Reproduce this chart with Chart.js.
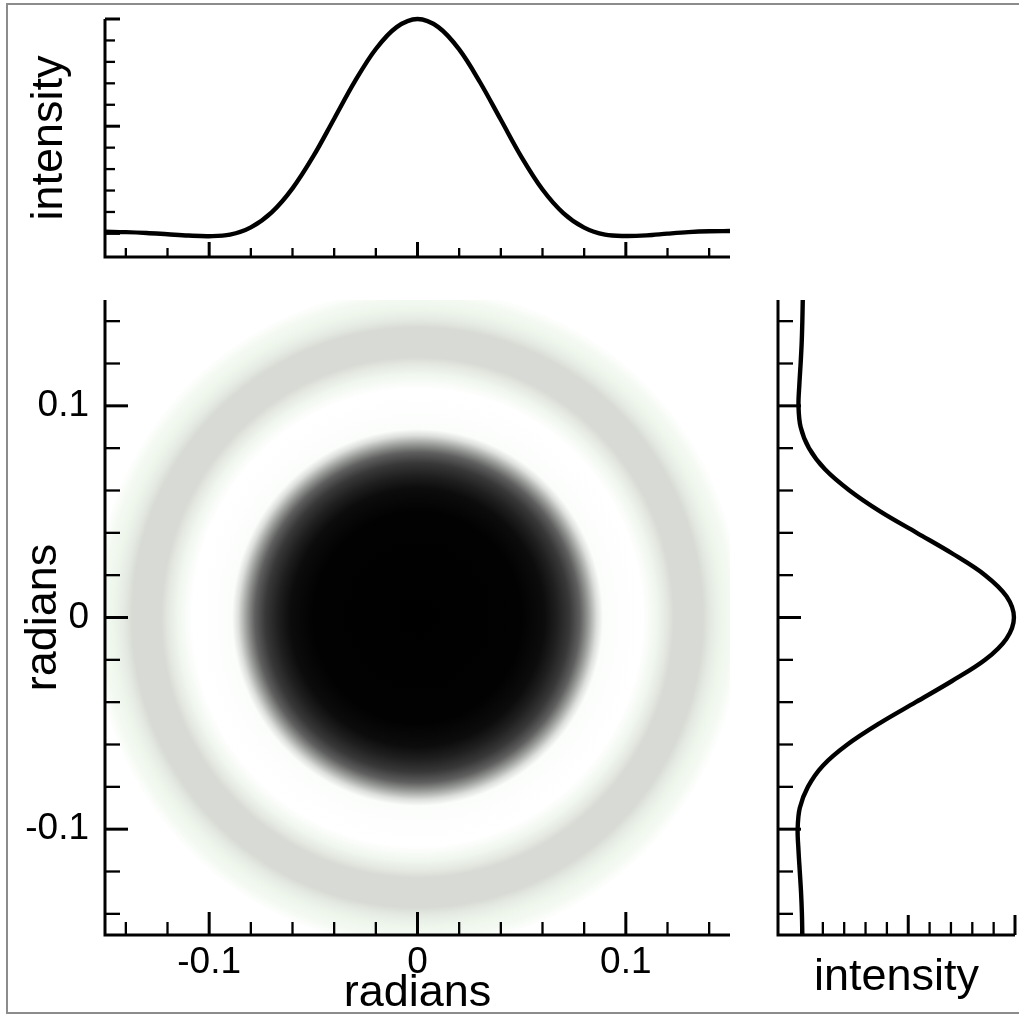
<!DOCTYPE html>
<html>
<head>
<meta charset="utf-8">
<title>Airy pattern</title>
<script src="https://cdn.jsdelivr.net/npm/chart.js@4.4.0/dist/chart.umd.min.js"></script>
<style>
  html, body { margin: 0; padding: 0; background: #fff; }
  body { width: 1019px; height: 1016px; position: relative; overflow: hidden; }
  .panel { position: absolute; }
  #frame { position: absolute; left: 6px; top: 3px; width: 1030px; height: 1011px;
           border: 2px solid #8c8c8c; border-right: none; box-sizing: border-box; }
</style>
</head>
<body>
<div id="frame"></div>
<div class="panel" style="left:0;top:0;"><canvas id="topChart" width="740" height="270"></canvas></div>
<div class="panel" style="left:0;top:280px;"><canvas id="mainChart" width="740" height="736"></canvas></div>
<div class="panel" style="left:760px;top:280px;"><canvas id="sideChart" width="259" height="736"></canvas></div>
<script>
// tick positions (radians and intensity)
const radTicks = [-0.14, -0.12, -0.1, -0.08, -0.06, -0.04, -0.02, 0, 0.02, 0.04, 0.06, 0.08, 0.1, 0.12, 0.14];
const radMajor = [-0.1, 0, 0.1];
const radLabels = ['-0.1', '0', '0.1'];
const intTicks = [0, 0.1, 0.2, 0.3, 0.4, 0.5, 0.6, 0.7, 0.8, 0.9, 1];
const intMajor = [0, 0.5, 1];

// horizontal cut (top panel)
const topAngle = [-0.15, -0.14, -0.13, -0.12, -0.11, -0.1, -0.09, -0.08, -0.07, -0.06, -0.05, -0.04, -0.03, -0.02, -0.01, 0,
                  0.01, 0.02, 0.03, 0.04, 0.05, 0.06, 0.07, 0.08, 0.09, 0.1, 0.11, 0.12, 0.13, 0.14, 0.15];
const topIntensity = [0.008, 0.006, 0.002, -0.004, -0.01, -0.013, -0.006, 0.028, 0.098, 0.21, 0.36, 0.535, 0.71, 0.86, 0.962, 1.0,
                      0.962, 0.858, 0.705, 0.53, 0.355, 0.205, 0.095, 0.027, -0.006, -0.012, -0.009, -0.001, 0.006, 0.01, 0.011];

// vertical cut (right panel)
const sideAngle = [0.15, 0.14, 0.13, 0.12, 0.11, 0.1, 0.09, 0.08, 0.07, 0.06, 0.05, 0.04, 0.03, 0.02, 0.01, 0,
                   -0.01, -0.02, -0.03, -0.04, -0.05, -0.06, -0.07, -0.08, -0.09, -0.1, -0.11, -0.12, -0.13, -0.14, -0.15];
const sideIntensity = [0.006, 0.004, 0.001, -0.004, -0.01, -0.014, -0.004, 0.035, 0.11, 0.225, 0.37, 0.54, 0.71, 0.86, 0.96, 0.995,
                       0.96, 0.86, 0.705, 0.535, 0.365, 0.215, 0.1, 0.03, -0.008, -0.018, -0.014, -0.008, -0.002, 0.002, 0.004];

// radial grey profile of the 2D image
const imgRadius = [0, 0.05, 0.061, 0.067, 0.073, 0.078, 0.082, 0.086, 0.089, 0.108, 0.115, 0.12, 0.123, 0.137, 0.141, 0.146, 0.151, 0.156];
const imgShade = ['#000000', '#020202', '#0c0c0c', '#1f1f1f', '#383838', '#5e5f5e', '#9a9c99', '#dcdedb', '#fbfdfb', '#ffffff',
                  '#f0f7ee', '#e3e7e0', '#d8dbd5', '#d8dbd5', '#e5ebe3', '#eef6ec', '#f4faf2', '#ffffff'];

Chart.defaults.font.family = '"Liberation Sans", Arial, sans-serif';
Chart.defaults.color = '#000';

const titleFont = { size: 45, lineHeight: 1 };
const tickFont = { size: 37, lineHeight: 1.2 };

// axis lines and inward tick marks
const inwardTicks = {
  id: 'inwardTicks',
  afterDraw(chart, args, opts) {
    const ctx = chart.ctx;
    const a = chart.chartArea;
    ctx.save();
    ctx.strokeStyle = '#000';
    ctx.lineCap = 'butt';
    ctx.lineWidth = 3;
    ctx.beginPath();
    ctx.moveTo(a.left, a.top);
    ctx.lineTo(a.left, a.bottom);
    ctx.lineTo(a.right, a.bottom);
    ctx.stroke();
    ['x', 'y'].forEach(function (id) {
      const scale = chart.scales[id];
      const o = opts[id];
      o.values.forEach(function (v) {
        const isMajor = o.major.includes(v);
        const len = isMajor ? o.majorLen : o.minorLen;
        const p = scale.getPixelForValue(v);
        ctx.lineWidth = isMajor ? 3 : 2.3;
        ctx.beginPath();
        if (id === 'x') {
          ctx.moveTo(p, a.bottom);
          ctx.lineTo(p, a.bottom - len);
        } else {
          ctx.moveTo(a.left, p);
          ctx.lineTo(a.left + len, p);
        }
        ctx.stroke();
      });
    });
    ctx.restore();
  }
};

// concentric diffraction image drawn with the chart's own scales
const airyImage = {
  id: 'airyImage',
  beforeDatasetsDraw(chart) {
    const ctx = chart.ctx;
    const a = chart.chartArea;
    const x = chart.scales.x, y = chart.scales.y;
    const rMax = imgRadius[imgRadius.length - 1];
    const cx = x.getPixelForValue(0), cy = y.getPixelForValue(0);
    const rx = x.getPixelForValue(rMax) - cx;
    const ry = cy - y.getPixelForValue(rMax);
    ctx.save();
    ctx.beginPath();
    ctx.rect(a.left, a.top, a.right - a.left, a.bottom - a.top);
    ctx.clip();
    ctx.translate(cx, cy);
    ctx.scale(1, ry / rx);
    const g = ctx.createRadialGradient(0, 0, 0, 0, 0, rx);
    imgRadius.forEach(function (r, i) { g.addColorStop(r / rMax, imgShade[i]); });
    ctx.fillStyle = g;
    ctx.beginPath();
    ctx.arc(0, 0, rx, 0, Math.PI * 2);
    ctx.fill();
    ctx.restore();
  }
};

function fixedTicks(values) {
  return function (scale) {
    scale.ticks = values.map(function (v) { return { value: v }; });
  };
}

// fixed axis box size, no extra label padding
function fixHeight(h) {
  return function (s) { s.height = h; s.paddingLeft = 0; s.paddingRight = 0; s.paddingTop = 0; s.paddingBottom = 0; };
}
function fixWidth(w) {
  return function (s) { s.width = w; s.paddingLeft = 0; s.paddingRight = 0; s.paddingTop = 0; s.paddingBottom = 0; };
}

function radLabel(value) {
  const i = radMajor.indexOf(value);
  return i >= 0 ? radLabels[i] : '';
}

function lineSet(xs, ys) {
  return {
    data: xs.map(function (v, i) { return { x: v, y: ys[i] }; }),
    showLine: true,
    borderColor: '#000',
    borderWidth: 4.4,
    pointRadius: 0,
    tension: 0.35,
    fill: false,
    clip: 6
  };
}

const baseOptions = {
  responsive: false,
  animation: false,
  events: [],
  plugins: { legend: { display: false }, tooltip: { enabled: false } }
};

// top panel: horizontal intensity profile
new Chart(document.getElementById('topChart').getContext('2d'), {
  type: 'scatter',
  data: { datasets: [lineSet(topAngle, topIntensity)] },
  options: Object.assign({}, baseOptions, {
    layout: { padding: { top: 19, right: 10, left: 0, bottom: 0 } },
    scales: {
      x: {
        type: 'linear', min: -0.15, max: 0.15,
        afterBuildTicks: fixedTicks(radTicks),
        afterFit: fixHeight(13),
        grid: { display: false, drawTicks: false },
        border: { display: false },
        ticks: { display: false }
      },
      y: {
        type: 'linear', min: -0.11, max: 1.0,
        afterBuildTicks: fixedTicks(intTicks),
        afterFit: fixWidth(105),
        grid: { display: false, drawTicks: false },
        border: { display: false },
        ticks: { display: false },
        title: { display: true, text: 'intensity', font: titleFont, padding: { top: 27, bottom: 0 } }
      }
    },
    plugins: Object.assign({}, baseOptions.plugins, {
      inwardTicks: {
        x: { values: radTicks, major: radMajor, minorLen: 9, majorLen: 15 },
        y: { values: intTicks, major: intMajor, minorLen: 10, majorLen: 15 }
      }
    })
  }),
  plugins: [inwardTicks]
});

// main panel: 2D diffraction image
new Chart(document.getElementById('mainChart').getContext('2d'), {
  type: 'scatter',
  data: { datasets: [] },
  options: Object.assign({}, baseOptions, {
    layout: { padding: { top: 20, right: 10, left: 0, bottom: 0 } },
    scales: {
      x: {
        type: 'linear', min: -0.15, max: 0.15,
        afterBuildTicks: fixedTicks(radTicks),
        afterFit: fixHeight(81),
        grid: { display: false, drawTicks: false },
        border: { display: false },
        ticks: { font: tickFont, padding: 6, autoSkip: false, maxRotation: 0, minRotation: 0, callback: radLabel },
        title: { display: true, text: 'radians', font: titleFont, padding: { top: 0, bottom: 0 } }
      },
      y: {
        type: 'linear', min: -0.15, max: 0.15,
        afterBuildTicks: fixedTicks(radTicks),
        afterFit: fixWidth(105),
        grid: { display: false, drawTicks: false },
        border: { display: false },
        ticks: { font: tickFont, padding: 16, autoSkip: false, callback: radLabel },
        title: { display: true, text: 'radians', font: titleFont, padding: { top: 21, bottom: 0 } }
      }
    },
    plugins: Object.assign({}, baseOptions.plugins, {
      inwardTicks: {
        x: { values: radTicks, major: radMajor, minorLen: 13, majorLen: 23 },
        y: { values: radTicks, major: radMajor, minorLen: 15, majorLen: 23 }
      }
    })
  }),
  plugins: [airyImage, inwardTicks]
});

// right panel: vertical intensity profile
new Chart(document.getElementById('sideChart').getContext('2d'), {
  type: 'scatter',
  data: { datasets: [lineSet(sideIntensity, sideAngle)] },
  options: Object.assign({}, baseOptions, {
    layout: { padding: { top: 20, right: 4, left: 0, bottom: 0 } },
    scales: {
      x: {
        type: 'linear', min: -0.11, max: 1.0,
        afterBuildTicks: fixedTicks(intTicks),
        afterFit: fixHeight(81),
        grid: { display: false, drawTicks: false },
        border: { display: false },
        ticks: { display: false },
        title: { display: true, text: 'intensity', font: titleFont, padding: { top: 0, bottom: 16 } }
      },
      y: {
        type: 'linear', min: -0.15, max: 0.15,
        afterBuildTicks: fixedTicks(radTicks),
        afterFit: fixWidth(18),
        grid: { display: false, drawTicks: false },
        border: { display: false },
        ticks: { display: false }
      }
    },
    plugins: Object.assign({}, baseOptions.plugins, {
      inwardTicks: {
        x: { values: intTicks, major: intMajor, minorLen: 13, majorLen: 20 },
        y: { values: radTicks, major: radMajor, minorLen: 15, majorLen: 23 }
      }
    })
  }),
  plugins: [inwardTicks]
});
</script>
</body>
</html>
